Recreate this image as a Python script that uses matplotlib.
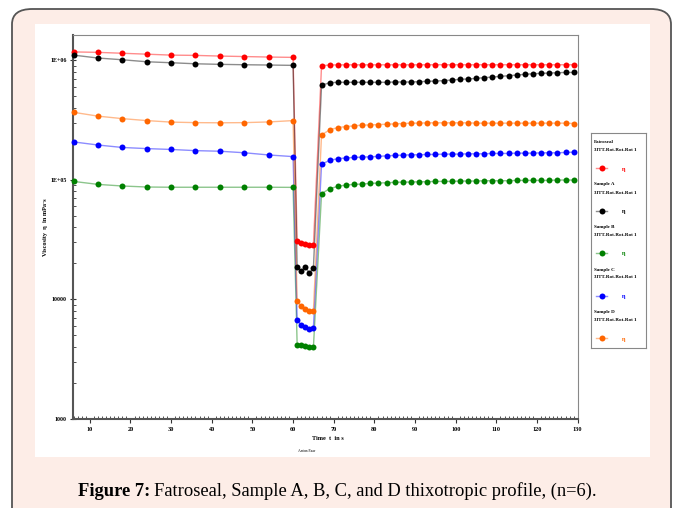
import matplotlib
matplotlib.use('Agg')
import matplotlib.pyplot as plt
from matplotlib.patches import FancyBboxPatch, Rectangle
from matplotlib.lines import Line2D
from matplotlib.ticker import FixedLocator, FixedFormatter, LogLocator, MultipleLocator, NullFormatter

# Zeitpunkte (s): Intervall 1, Intervall 2 (Scherung), Intervall 3 (Erholung)
tiempo = [6, 12, 18, 24, 30, 36, 42, 48, 54, 60,
          61, 62, 63, 64, 65,
          67, 69, 71, 73, 75, 77, 79, 81, 83, 85, 87, 89, 91, 93, 95, 97,
          99, 101, 103, 105, 107, 109, 111, 113, 115, 117, 119, 121, 123, 125, 127, 129]

fatroseal = [1.17e6, 1.16e6, 1.14e6, 1.12e6, 1.10e6, 1.094e6, 1.08e6, 1.07e6, 1.06e6, 1.053e6,
             3.06e4, 2.98e4, 2.92e4, 2.84e4, 2.84e4,
             8.96e5, 9.10e5, 9.12e5, 9.13e5, 9.13e5, 9.13e5, 9.13e5, 9.13e5, 9.13e5, 9.13e5,
             9.13e5, 9.13e5, 9.13e5, 9.14e5, 9.14e5, 9.14e5, 9.14e5, 9.14e5, 9.14e5, 9.14e5,
             9.14e5, 9.14e5, 9.14e5, 9.14e5, 9.14e5, 9.14e5, 9.14e5, 9.14e5, 9.14e5, 9.14e5,
             9.14e5, 9.14e5]

sample_a = [1.10e6, 1.04e6, 1.006e6, 0.968e6, 0.950e6, 0.931e6, 0.921e6, 0.914e6, 0.909e6, 0.903e6,
            1.86e4, 1.73e4, 1.85e4, 1.67e4, 1.82e4,
            6.15e5, 6.47e5, 6.52e5, 6.52e5, 6.52e5, 6.52e5, 6.52e5, 6.52e5, 6.52e5, 6.56e5,
            6.56e5, 6.56e5, 6.60e5, 6.64e5, 6.68e5, 6.73e5, 6.81e5, 6.90e5, 6.95e5, 7.03e5,
            7.13e5, 7.21e5, 7.31e5, 7.40e5, 7.50e5, 7.60e5, 7.69e5, 7.74e5, 7.79e5, 7.84e5,
            7.88e5, 7.88e5]

sample_b = [9.68e4, 9.14e4, 8.86e4, 8.69e4, 8.65e4, 8.65e4, 8.65e4, 8.65e4, 8.65e4, 8.63e4,
            4.19e3, 4.16e3, 4.11e3, 3.96e3, 3.96e3,
            7.65e4, 8.41e4, 8.80e4, 9.03e4, 9.14e4, 9.20e4, 9.32e4, 9.38e4, 9.44e4, 9.50e4,
            9.56e4, 9.56e4, 9.62e4, 9.62e4, 9.68e4, 9.68e4, 9.68e4, 9.75e4, 9.75e4, 9.75e4,
            9.81e4, 9.81e4, 9.81e4, 9.81e4, 9.87e4, 9.87e4, 9.87e4, 9.87e4, 9.87e4, 9.94e4,
            9.94e4, 9.94e4]

sample_c = [2.07e5, 1.95e5, 1.86e5, 1.82e5, 1.79e5, 1.75e5, 1.73e5, 1.68e5, 1.61e5, 1.56e5,
            6.68e3, 6.11e3, 5.88e3, 5.65e3, 5.76e3,
            1.35e5, 1.45e5, 1.50e5, 1.52e5, 1.535e5, 1.545e5, 1.556e5, 1.565e5, 1.585e5, 1.595e5,
            1.605e5, 1.616e5, 1.616e5, 1.626e5, 1.626e5, 1.637e5, 1.637e5, 1.637e5, 1.647e5, 1.647e5,
            1.647e5, 1.658e5, 1.658e5, 1.658e5, 1.668e5, 1.668e5, 1.668e5, 1.679e5, 1.679e5, 1.679e5,
            1.69e5, 1.70e5]

sample_d = [3.66e5, 3.40e5, 3.24e5, 3.12e5, 3.03e5, 3.00e5, 2.99e5, 3.00e5, 3.04e5, 3.12e5,
            9.62e3, 8.80e3, 8.30e3, 7.99e3, 7.99e3,
            2.37e5, 2.61e5, 2.73e5, 2.78e5, 2.82e5, 2.86e5, 2.87e5, 2.89e5, 2.91e5, 2.93e5,
            2.95e5, 2.97e5, 2.97e5, 2.99e5, 2.99e5, 2.99e5, 2.99e5, 2.99e5, 2.99e5, 2.97e5,
            2.97e5, 2.97e5, 2.97e5, 2.97e5, 2.97e5, 2.97e5, 2.97e5, 2.97e5, 2.97e5, 2.97e5,
            2.97e5, 2.95e5]

nombres = ['Fatroseal', 'Sample A', 'Sample B', 'Sample C', 'Sample D']
series = [fatroseal, sample_a, sample_b, sample_c, sample_d]
colores = ['#ff0000', '#000000', '#008000', '#0000ff', '#ff6600']

y_ticks = [1e3, 1e4, 1e5, 1e6]
y_etiquetas = ['1000', '10000', '1E+05', '1E+06']
x_ticks = [10, 20, 30, 40, 50, 60, 70, 80, 90, 100, 110, 120, 130]

W, H = 678, 508
fig = plt.figure(figsize=(W / 100, H / 100), dpi=100)
fig.patch.set_facecolor('white')

# marco rosa con borde redondeado
marco = FancyBboxPatch((12 / W, -0.05), 659 / W, 1 - 9 / H + 0.05,
                       boxstyle='round,pad=0,rounding_size=0.03',
                       transform=fig.transFigure, facecolor='#fdede7',
                       edgecolor='#555555', linewidth=1.3, zorder=-2)
fig.patches.append(marco)
# panel blanco
panel = Rectangle((35 / W, 1 - 457 / H), 615 / W, 433 / H, transform=fig.transFigure,
                  facecolor='white', edgecolor='none', zorder=-1)
fig.patches.append(panel)

ax = fig.add_axes([72.7 / W, 1 - 419 / H, 505 / W, 384 / H])
ax.set_facecolor('white')
ax.set_yscale('log')

for nombre, vals, c in zip(nombres, series, colores):
    ax.plot(tiempo, vals, color=c, alpha=0.45, linewidth=1.0, zorder=2)
    ax.plot(tiempo, vals, linestyle='none', marker='o', markersize=4.3,
            color=c, markeredgewidth=0, zorder=3, clip_on=False)

ax.set_xlim(5.8, 130)
ax.set_ylim(1000, 1.62e6)

ax.yaxis.set_major_locator(FixedLocator(y_ticks))
ax.yaxis.set_major_formatter(FixedFormatter(y_etiquetas))
ax.yaxis.set_minor_locator(LogLocator(base=10, subs=range(2, 10)))
ax.yaxis.set_minor_formatter(NullFormatter())
ax.xaxis.set_major_locator(FixedLocator(x_ticks))
ax.xaxis.set_minor_locator(MultipleLocator(1))

fuente = 'Liberation Serif'
ax.tick_params(axis='y', which='major', direction='inout', length=5, width=0.8,
               labelsize=4.3, pad=2, colors='#333333', labelcolor='black')
ax.tick_params(axis='y', which='minor', direction='in', length=2.5, width=0.6, colors='#333333')
ax.tick_params(axis='x', which='major', direction='out', length=3, width=0.8,
               labelsize=4.5, pad=3, colors='#333333', labelcolor='black')
ax.tick_params(axis='x', which='minor', direction='in', length=2, width=0.6, colors='#333333')
for lab in ax.get_xticklabels() + ax.get_yticklabels():
    lab.set_fontfamily(fuente)
    lab.set_fontweight('bold')

for lado in ['left', 'bottom']:
    ax.spines[lado].set_color('#555555')
    ax.spines[lado].set_linewidth(1.5)
for lado in ['top', 'right']:
    ax.spines[lado].set_color('#888888')
    ax.spines[lado].set_linewidth(0.8)

fig.text(45 / W, 1 - 227 / H, 'Viscosity  \u03b7  in mPa\u00b7s', rotation=90, ha='center',
         va='center', fontsize=4.5, fontfamily=fuente, fontweight='bold')
fig.text(328 / W, 1 - 438 / H, 'Time  t  in s', ha='center', va='center', fontsize=4.5,
         fontfamily=fuente, fontweight='bold')
fig.text(307 / W, 1 - 451 / H, 'Anton Paar', ha='center', va='center', fontsize=2.8,
         fontfamily=fuente)

# leyenda
leg = fig.add_axes([591 / W, 1 - 348 / H, 55 / W, 215 / H])
leg.set_xlim(0, 55)
leg.set_ylim(215, 0)
leg.set_xticks([])
leg.set_yticks([])
for s in leg.spines.values():
    s.set_color('#888888')
    s.set_linewidth(0.8)
for i, (nombre, c) in enumerate(zip(nombres, colores)):
    y0 = 9 + i * 42.5
    leg.text(3, y0, nombre, fontsize=3.6, fontfamily=fuente, fontweight='bold', va='center')
    leg.text(3, y0 + 8, '3ITT-Rot-Rot-Rot 1', fontsize=3.6, fontfamily=fuente,
             fontweight='bold', va='center')
    leg.add_line(Line2D([5, 16], [y0 + 26, y0 + 26], color=c, alpha=0.45, linewidth=1.0))
    leg.add_line(Line2D([10.5], [y0 + 26], color=c, marker='o', markersize=4.3,
                        markeredgewidth=0))
    leg.text(31, y0 + 27, '\u03b7', fontsize=4.5, color=c, fontfamily=fuente,
             fontweight='bold', va='center')

# leyenda de la figura
y_cap = 1 - 491 / H
t1 = fig.text(78 / W, y_cap, 'Figure 7:', fontsize=13.3, fontfamily=fuente,
              fontweight='bold', va='center', ha='left')
fig.canvas.draw()
bb = t1.get_window_extent(renderer=fig.canvas.get_renderer())
fig.text((bb.x1 + 4) / W, y_cap, 'Fatroseal, Sample A, B, C, and D thixotropic profile, (n=6).',
         fontsize=13.3, fontfamily=fuente, va='center', ha='left')

fig.savefig('out.png', dpi=100)
